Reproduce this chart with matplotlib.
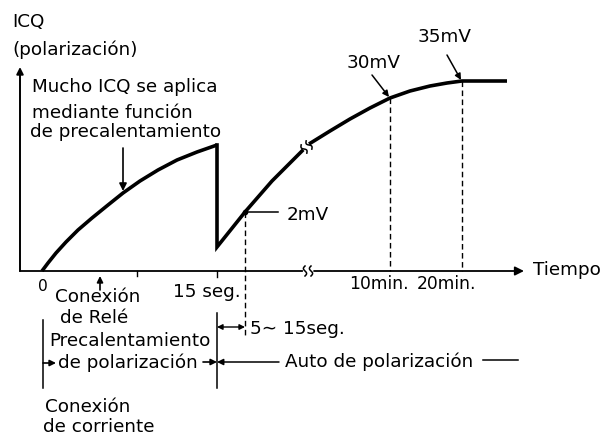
import numpy as np
import matplotlib
matplotlib.use("Agg")
import matplotlib.pyplot as plt

plt.rcParams['font.family'] = ['DejaVu Sans']

# ---- diagram data (drawing units: x to the right, y downwards) ----
# bias current during the preheat phase (0 .. 15 s)
warmup_x = [42, 48, 56, 66, 78, 92, 108, 123, 140, 158, 177, 197, 217]
warmup_y = [271, 263, 253, 242, 230, 218, 205, 193, 181, 170, 160, 152, 145]
# drop at relay switch-over, then auto-bias recovery up to the axis break
recover_x = [217, 217, 245, 272, 302]
recover_y = [145, 247, 212, 181, 151]
# long-term settling after the break (minutes)
settle_x = [309, 330, 350, 370, 390, 410, 430, 447, 462, 507]
settle_y = [144, 131, 119, 108, 98, 91, 86, 83, 81, 81]

# marked levels on the curve
mark_labels = ["2mV", "30mV", "35mV"]
mark_x = [245, 390, 462]
mark_y = [212, 98, 81]

# time-axis labels
tick_labels = ["0", "15 seg.", "10min.", "20min."]

fig = plt.figure(figsize=(6.04, 4.36), dpi=100)
ax = fig.add_axes([0, 0, 1, 1])
ax.set_xlim(0, 604)
ax.set_ylim(436, 0)
ax.axis('off')

FS = 13.2
K = 'black'


def arrow(tip, tail, lw=1.2, ms=11, style='-|>'):
    ax.annotate('', xy=tip, xytext=tail,
                arrowprops=dict(arrowstyle=style, lw=lw, color=K,
                                mutation_scale=ms, shrinkA=0, shrinkB=0))


def squiggle(xc, yc, h=6, angle=0.0):
    t = np.linspace(-1, 1, 30)
    dx = 1.6 * np.sin(np.pi * t)
    dy = h * t
    c, s = np.cos(angle), np.sin(angle)
    ax.plot(xc + dx * c - dy * s, yc + dx * s + dy * c, color=K, lw=1.1)


# axes
x0, y0 = 20, 271
arrow((x0, 67), (x0, y0), lw=1.4, ms=10)
ax.plot([x0, 302], [y0, y0], color=K, lw=1.3)
arrow((524, y0), (314, y0), lw=1.3, ms=13)
squiggle(305, y0, h=5)
squiggle(311, y0, h=5)

# small ticks on time axis
ax.plot([137, 137], [y0, y0 + 5], color=K, lw=1.0)
ax.plot([217, 217], [y0, y0 + 6], color=K, lw=1.0)

# bias curve
ax.plot(warmup_x, warmup_y, color=K, lw=2.6, solid_capstyle='butt',
        solid_joinstyle='round')
ax.plot(recover_x, recover_y, color=K, lw=2.6, solid_joinstyle='miter')
ax.plot(settle_x, settle_y, color=K, lw=2.6, solid_capstyle='butt',
        solid_joinstyle='round')
squiggle(304, 149, h=5, angle=-0.6)
squiggle(309, 145, h=5, angle=-0.6)

# dashed guide lines at the marked levels
ax.plot([mark_x[0], mark_x[0]], [mark_y[0], 336], color=K, lw=1.0,
        ls=(0, (4, 2.5)))
for mx, my in zip(mark_x[1:], mark_y[1:]):
    ax.plot([mx, mx], [my, y0], color=K, lw=1.0, ls=(0, (4, 2.5)))

# level labels
ax.plot([mark_x[0], 278], [mark_y[0], mark_y[0]], color=K, lw=1.1)
ax.plot(mark_x[0], mark_y[0], 'o', color=K, ms=3)
ax.text(287, 215, mark_labels[0], fontsize=FS, ha='left', va='center')
ax.text(347, 63, mark_labels[1], fontsize=FS, ha='left', va='center')
arrow((mark_x[1] - 1, mark_y[1] - 1), (372, 75), lw=1.1, ms=9)
ax.text(418, 37, mark_labels[2], fontsize=FS, ha='left', va='center')
arrow((mark_x[2] - 1, mark_y[2] - 1), (447, 55), lw=1.1, ms=9)

# axis titles
ax.text(12, 22, "ICQ", fontsize=FS, ha='left', va='center')
ax.text(12, 50, "(polarización)", fontsize=FS, ha='left', va='center')
ax.text(533, 270, "Tiempo", fontsize=FS, ha='left', va='center')

# preheat note
ax.text(32, 87, "Mucho ICQ se aplica", fontsize=FS, ha='left', va='center')
ax.text(32, 113, "mediante función", fontsize=FS, ha='left', va='center')
ax.text(30, 132, "de precalentamiento", fontsize=FS, ha='left', va='center')
arrow((123, 191), (123, 148), lw=1.2, ms=11)

# time tick labels
ax.text(43, 286, tick_labels[0], fontsize=FS - 2, ha='center', va='center')
ax.text(173, 292, tick_labels[1], fontsize=FS, ha='left', va='center')
ax.text(379, 284, tick_labels[2], fontsize=12.3, ha='center', va='center')
ax.text(447, 284, tick_labels[3], fontsize=12.3, ha='center', va='center')

# relay connection
arrow((100, 276), (100, 290), lw=1.2, ms=9)
ax.text(55, 297, "Conexión", fontsize=FS, ha='left', va='center')
ax.text(60, 318, "de Relé", fontsize=FS, ha='left', va='center')

# phase boundaries below the axis
ax.plot([43, 43], [320, 388], color=K, lw=1.1)
ax.plot([217, 217], [313, 388], color=K, lw=1.1)

# 5~15 s dimension
arrow((245, 327), (217, 327), lw=1.0, ms=8, style='<|-|>')
ax.text(250, 329, "5\u223c 15seg.", fontsize=FS, ha='left', va='center')

# preheat phase
ax.text(49, 341, "Precalentamiento", fontsize=FS, ha='left', va='center')
ax.text(58, 363, "de polarización", fontsize=FS, ha='left', va='center')
arrow((56, 363), (43, 363), lw=1.2, ms=9)
arrow((217, 362), (203, 362), lw=1.2, ms=9)

# auto-bias phase
arrow((217, 362), (279, 362), lw=1.1, ms=9)
ax.text(285, 362, "Auto de polarización", fontsize=FS, ha='left',
        va='center')
ax.plot([483, 518], [360, 360], color=K, lw=1.1)

# power connection
ax.text(45, 407, "Conexión", fontsize=FS, ha='left', va='center')
ax.text(43, 427, "de corriente", fontsize=FS, ha='left', va='center')

fig.savefig("out.png", dpi=100)
